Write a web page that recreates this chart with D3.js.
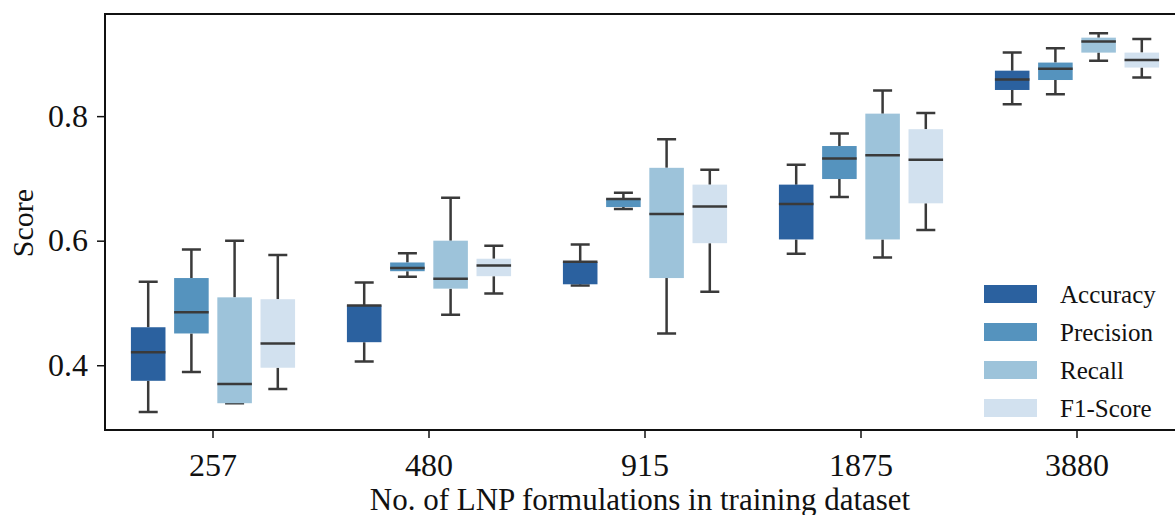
<!DOCTYPE html>
<html lang="en">
<head>
    <meta charset="UTF-8">
    <title>Score vs. training set size</title>
    <script src="https://d3js.org/d3.v7.min.js"></script>
    <style>
        body {
            margin: 0;
            padding: 0;
            background-color: #fff;
        }
        svg {
            display: block;
            overflow: hidden;
        }
        svg text {
            font-family: "Liberation Serif", "Times New Roman", Times, serif;
        }
    </style>
</head>
<body>
    <div id="chart"></div>
    <script>
        // categories on the x axis
        const categories = ["257", "480", "915", "1875", "3880"];
        const seriesNames = ["Accuracy", "Precision", "Recall", "F1-Score"];
        const seriesColors = ["#2b619f", "#5593be", "#9dc3da", "#d2e1ef"];
        const yTicks = [0.4, 0.6, 0.8];

        // box stats per category: [whisker low, q1, median, q3, whisker high]
        const accuracy = [
            [0.325, 0.375, 0.421, 0.461, 0.534],
            [0.406, 0.437, 0.496, 0.496, 0.533],
            [0.528, 0.530, 0.566, 0.566, 0.594],
            [0.579, 0.602, 0.659, 0.690, 0.722],
            [0.819, 0.842, 0.859, 0.873, 0.902]
        ];
        const precision = [
            [0.389, 0.451, 0.485, 0.540, 0.586],
            [0.542, 0.551, 0.556, 0.565, 0.580],
            [0.651, 0.654, 0.667, 0.667, 0.677],
            [0.670, 0.699, 0.732, 0.752, 0.772],
            [0.835, 0.858, 0.876, 0.886, 0.909]
        ];
        const recall = [
            [0.339, 0.339, 0.370, 0.509, 0.600],
            [0.481, 0.523, 0.539, 0.600, 0.669],
            [0.451, 0.540, 0.643, 0.717, 0.763],
            [0.573, 0.602, 0.737, 0.804, 0.841],
            [0.889, 0.902, 0.920, 0.926, 0.933]
        ];
        const f1score = [
            [0.362, 0.396, 0.435, 0.506, 0.577],
            [0.515, 0.543, 0.560, 0.571, 0.592],
            [0.518, 0.596, 0.655, 0.690, 0.714],
            [0.617, 0.660, 0.730, 0.779, 0.805],
            [0.862, 0.878, 0.890, 0.902, 0.924]
        ];
        const seriesData = [accuracy, precision, recall, f1score];

        const width = 1175, height = 515;
        const margin = { top: 14, left: 105, bottom: 85 };
        const plotW = 1080; // plot runs past the right edge of the picture
        const plotH = height - margin.top - margin.bottom;

        const svg = d3.select("#chart")
            .append("svg")
            .attr("width", width)
            .attr("height", height);

        const g = svg.append("g")
            .attr("transform", `translate(${margin.left},${margin.top})`);

        const x = d3.scaleBand().domain(categories).range([0, plotW]);
        const inner = d3.scaleBand().domain(seriesNames)
            .range([-x.bandwidth() * 0.4, x.bandwidth() * 0.4]);
        const y = d3.scaleLinear().domain([0.296, 0.964]).range([plotH, 0]);

        const boxW = inner.bandwidth() * 0.8;
        const capW = boxW * 0.55;
        const lineColor = "#3a3a3a";

        seriesNames.forEach((name, si) => {
            const grp = g.append("g");
            const rows = seriesData[si].map((d, ci) => ({ cat: categories[ci], s: d }));
            const cx = d => x(d.cat) + x.bandwidth() / 2 + inner(name) + inner.bandwidth() / 2;

            // whiskers
            grp.selectAll(".whisk").data(rows).enter().append("path")
                .attr("d", d => `M${cx(d)},${y(d.s[0])}V${y(d.s[1])}M${cx(d)},${y(d.s[3])}V${y(d.s[4])}`)
                .attr("stroke", lineColor).attr("stroke-width", 2.5).attr("fill", "none");
            // caps
            grp.selectAll(".cap").data(rows).enter().append("path")
                .attr("d", d => `M${cx(d) - capW / 2},${y(d.s[0])}h${capW}M${cx(d) - capW / 2},${y(d.s[4])}h${capW}`)
                .attr("stroke", lineColor).attr("stroke-width", 2.5).attr("fill", "none");
            // boxes
            grp.selectAll(".box").data(rows).enter().append("rect")
                .attr("x", d => cx(d) - boxW / 2)
                .attr("y", d => y(d.s[3]))
                .attr("width", boxW)
                .attr("height", d => Math.max(1, y(d.s[1]) - y(d.s[3])))
                .attr("fill", seriesColors[si]);
            // medians
            grp.selectAll(".med").data(rows).enter().append("path")
                .attr("d", d => `M${cx(d) - boxW / 2},${y(d.s[2])}h${boxW}`)
                .attr("stroke", lineColor).attr("stroke-width", 2.5);
        });

        // frame
        g.append("rect")
            .attr("width", plotW).attr("height", plotH)
            .attr("fill", "none").attr("stroke", "#111").attr("stroke-width", 2);

        const xAxis = g.append("g")
            .attr("transform", `translate(0,${plotH})`)
            .call(d3.axisBottom(x).tickSize(8).tickPadding(15));
        const yAxis = g.append("g")
            .call(d3.axisLeft(y).tickValues(yTicks).tickFormat(d3.format(".1f")).tickSize(8).tickPadding(9));

        [xAxis, yAxis].forEach(a => {
            a.attr("font-family", null);
            a.select(".domain").remove();
            a.selectAll(".tick line").attr("stroke", "#111").attr("stroke-width", 1.5);
            a.selectAll(".tick text")
                .attr("fill", "#111")
                .style("font-size", "32px");
        });

        g.append("text")
            .attr("x", 535)
            .attr("y", plotH + 80)
            .attr("text-anchor", "middle")
            .style("font-size", "31px")
            .attr("fill", "#111")
            .text("No. of LNP formulations in training dataset");

        g.append("text")
            .attr("transform", `translate(${-72},${plotH / 2 + 1}) rotate(-90)`)
            .attr("text-anchor", "middle")
            .style("font-size", "30px")
            .attr("fill", "#111")
            .text("Score");

        // legend
        const legend = svg.append("g").attr("transform", "translate(984,285)");
        seriesNames.forEach((name, i) => {
            const row = legend.append("g").attr("transform", `translate(0,${i * 38})`);
            row.append("rect").attr("width", 53).attr("height", 18).attr("fill", seriesColors[i]);
            row.append("text")
                .attr("x", 76).attr("y", 18)
                .style("font-size", "25px")
                .attr("fill", "#111")
                .text(name);
        });
    </script>
</body>
</html>
